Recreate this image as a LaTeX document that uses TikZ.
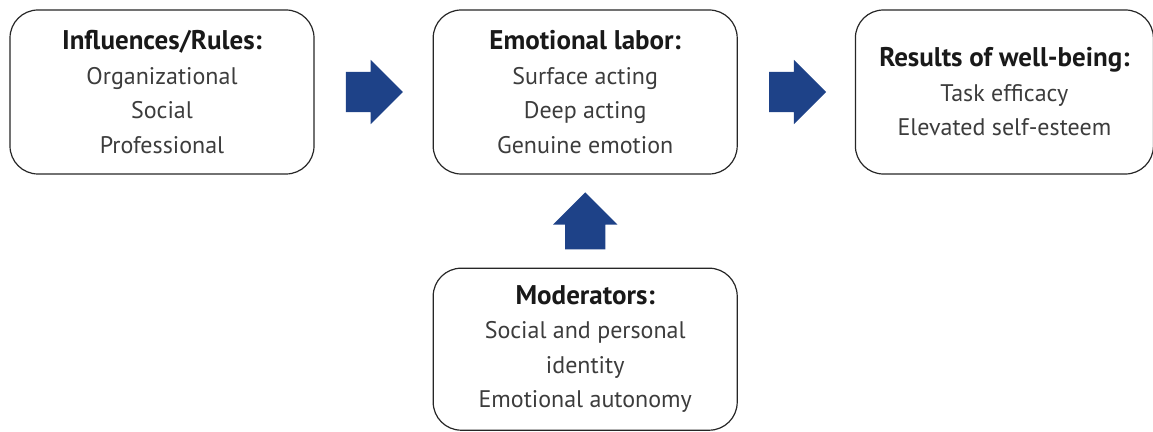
\documentclass[tikz,border=0pt]{standalone}
\usepackage{fontspec}
\setmainfont{PT Sans}
\usepackage{xcolor}
\usepackage{tikz}
\usetikzlibrary{positioning, calc, shapes.arrows}
\definecolor{arrowblue}{RGB}{30,66,136}
\definecolor{textgray}{RGB}{60,60,60}
\tikzset{
  stagebox/.style={draw=black!85, line width=1.2pt, rounded corners=28pt,
    minimum width=304pt, minimum height=164pt, inner sep=0pt, align=center,
    text=textgray, font=\fontsize{24}{34.5}\selectfont},
  blockarrow/.style={single arrow, fill=arrowblue, draw=none, inner xsep=0pt,
    inner ysep=20pt, minimum height=57pt, single arrow head extend=12pt,
    anchor=tail},
}
\newcommand{\boxhead}[1]{{\fontsize{27}{34.5}\selectfont\bfseries\color{black!90}#1}}

\begin{document}
\begin{tikzpicture}[x=1pt,y=1pt]
  \useasboundingbox (0,0) rectangle (1153,431);
  % the three stages
  \node [stagebox] (infl) at (162,339)
    {\boxhead{Influences/Rules:}\\ Organizational\\ Social\\ Professional};
  \node [stagebox, right=118pt of infl] (labor)
    {\boxhead{Emotional labor:}\\ Surface acting\\ Deep acting\\ Genuine emotion};
  \node [stagebox, minimum width=298pt, right=117pt of labor] (results)
    {\boxhead{Results of well-being:}\\ Task efficacy\\ Elevated self-esteem};
  \node [stagebox, minimum height=162pt, below=93pt of labor] (moder)
    {\boxhead{Moderators:}\\ Social and personal\\ identity\\ Emotional autonomy};
  % block arrows
  \node [blockarrow] (arr1) at ($(infl.east)+(31pt,0)$) {};
  \node [blockarrow] (arr2) at ($(labor.east)+(31pt,0)$) {};
  \node [blockarrow, rotate=90] (arr3) at ($(moder.north)+(0,18pt)$) {};
\end{tikzpicture}
\end{document}
